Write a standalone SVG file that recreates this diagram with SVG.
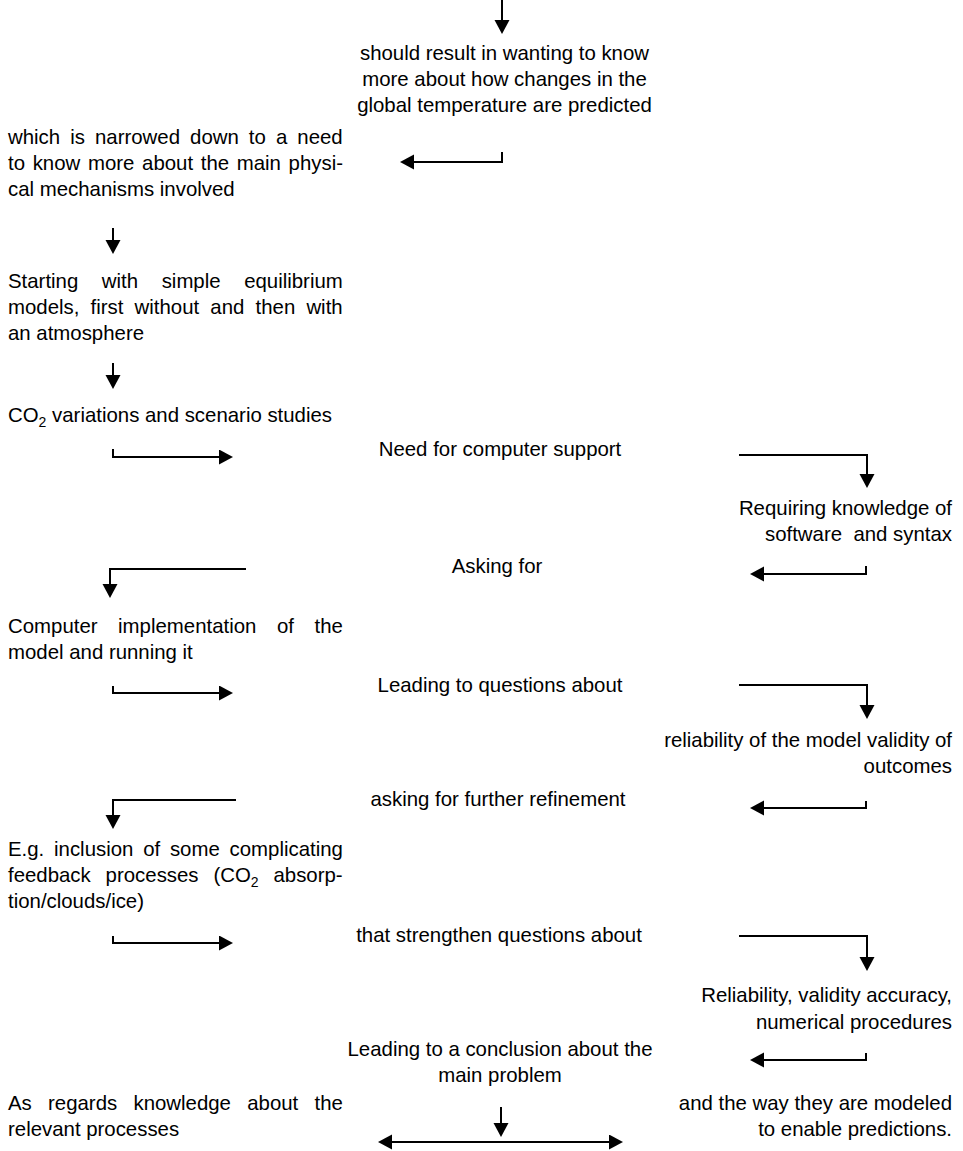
<svg xmlns="http://www.w3.org/2000/svg" width="963" height="1151" viewBox="0 0 963 1151">
<style>
text{font-family:"Liberation Sans",Arial,sans-serif;font-size:20.4px;fill:#000}
.c{text-anchor:middle}
.r{text-anchor:end}
.sub{font-size:14px}
.conn path{fill:none;stroke:#000;stroke-width:2}
</style>
<defs>
<marker id="ah" markerUnits="userSpaceOnUse" markerWidth="16" markerHeight="16" refX="0" refY="7.5" orient="auto-start-reverse" viewBox="0 0 16 16">
<path d="M0,0 L14,7.5 L0,15 z" fill="#000"/>
</marker>
</defs>
<rect width="963" height="1151" fill="#fff"/>
<g id="n1"><text class="c" x="504.5" y="60">should result in wanting to know</text><text class="c" x="504.5" y="86">more about how changes in the</text><text class="c" x="504.5" y="112">global temperature are predicted</text></g>
<g id="n2"><text x="8" y="144" word-spacing="4.4">which is narrowed down to a need</text><text x="8" y="170" word-spacing="2">to know more about the main physi-</text><text x="8" y="196">cal mechanisms involved</text></g>
<g id="n3"><text x="8" y="288" word-spacing="17.9">Starting with simple equilibrium</text><text x="8" y="314" word-spacing="5.5">models, first without and then with</text><text x="8" y="340">an atmosphere</text></g>
<g id="n4"><text x="8" y="422">CO<tspan class="sub" dy="5">2</tspan><tspan dy="-5"> variations and scenario studies</tspan></text></g>
<g id="n5"><text class="c" x="500" y="456">Need for computer support</text></g>
<g id="n6"><text class="r" x="952" y="515">Requiring knowledge of</text><text class="r" x="952" y="541" xml:space="preserve">software  and syntax</text></g>
<g id="n7"><text class="c" x="497" y="573">Asking for</text></g>
<g id="n8"><text x="8" y="633" word-spacing="14.9">Computer implementation of the</text><text x="8" y="659">model and running it</text></g>
<g id="n9"><text class="c" x="500" y="692">Leading to questions about</text></g>
<g id="n10"><text class="r" x="952" y="747">reliability of the model validity of</text><text class="r" x="952" y="773">outcomes</text></g>
<g id="n11"><text class="c" x="498" y="806">asking for further refinement</text></g>
<g id="n12"><text x="8" y="856" word-spacing="4.1">E.g. inclusion of some complicating</text><text x="8" y="882" word-spacing="9.2">feedback processes (CO<tspan class="sub" dy="5">2</tspan><tspan dy="-5"> absorp-</tspan></text><text x="8" y="908">tion/clouds/ice)</text></g>
<g id="n13"><text class="c" x="499" y="942">that strengthen questions about</text></g>
<g id="n14"><text class="r" x="952" y="1002">Reliability, validity accuracy,</text><text class="r" x="952" y="1029">numerical procedures</text></g>
<g id="n15"><text class="c" x="500" y="1056">Leading to a conclusion about the</text><text class="c" x="500" y="1082">main problem</text></g>
<g id="n16"><text x="8" y="1110" word-spacing="10.6">As regards knowledge about the</text><text x="8" y="1136">relevant processes</text></g>
<g id="n17"><text class="r" x="952" y="1110">and the way they are modeled</text><text class="r" x="952" y="1136">to enable predictions.</text></g>
<g id="connectors" class="conn">
<path d="M502,0 V20" marker-end="url(#ah)"/>
<path d="M502,152 V162 H414" marker-end="url(#ah)"/>
<path d="M113,228 V240" marker-end="url(#ah)"/>
<path d="M113,363 V375" marker-end="url(#ah)"/>
<path d="M113,449 V457 H219" marker-end="url(#ah)"/>
<path d="M739,455 H867 V474" marker-end="url(#ah)"/>
<path d="M866,566 V574 H764" marker-end="url(#ah)"/>
<path d="M246,569 H110 V584" marker-end="url(#ah)"/>
<path d="M113,686 V693 H219" marker-end="url(#ah)"/>
<path d="M739,685 H867 V705" marker-end="url(#ah)"/>
<path d="M866,801 V808 H764" marker-end="url(#ah)"/>
<path d="M236,800 H113 V815" marker-end="url(#ah)"/>
<path d="M113,936 V943 H219" marker-end="url(#ah)"/>
<path d="M739,936 H867 V957" marker-end="url(#ah)"/>
<path d="M866,1053 V1060 H764" marker-end="url(#ah)"/>
<path d="M501,1107 V1123" marker-end="url(#ah)"/>
<path d="M392,1142 H609" marker-start="url(#ah)" marker-end="url(#ah)"/>
</g>
</svg>
